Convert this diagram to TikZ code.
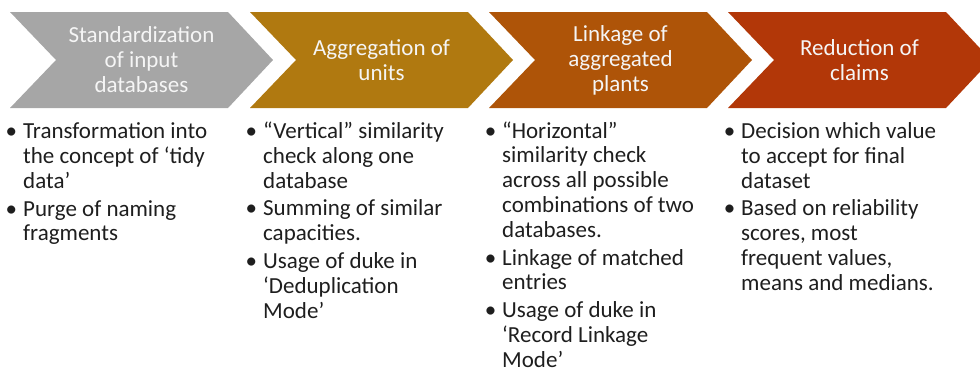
\documentclass[tikz,border=0pt]{standalone}
\usepackage{fontspec}
\setmainfont{Carlito}
\definecolor{cgray}{RGB}{166,166,166}
\definecolor{cgold}{RGB}{176,121,16}
\definecolor{cbrown}{RGB}{174,84,8}
\definecolor{cred}{RGB}{178,55,8}
\definecolor{ctext}{RGB}{30,30,30}
\newcommand\mychev[2]{\fill[#2] (#1,12) -- ++(218,0) -- ++(45,48) -- ++(-45,48) -- ++(-218,0) -- ++(46,-48) -- cycle;}
\newcommand\bul{\llap{•\hspace{6pt}}}
\begin{document}
\begin{tikzpicture}[x=1pt,y=-1pt,
  head/.style={align=center, text=white!96!black, inner sep=0pt, font=\fontsize{23}{25}\selectfont},
  col/.style={align=left, anchor=north west, inner sep=0pt, text=ctext, font=\fontsize{23}{24.8}\selectfont}]
\useasboundingbox (0,0) rectangle (980,373);
\clip (0,0) rectangle (980,373);
\mychev{10}{cgray}
\mychev{250}{cgold}
\mychev{489}{cbrown}
\mychev{728}{cred}
\node[head] (h1) at (141.5,60) {Standardization\\of input\\databases};
\node[head] (h2) at (381.5,60) {Aggregation of\\units};
\node[head] (h3) at (620.5,60) {Linkage of\\aggregated\\plants};
\node[head] (h4) at (859.5,60) {Reduction of\\claims};
\node[col] (c1) at (23,121.2) {\strut\bul Transformation into\\the concept of ‘tidy\\data’\\[3pt]\bul Purge of naming\\fragments};
\node[col] (c2) at (263,121) {\strut\bul “Vertical” similarity\\check along one\\database\\[3pt]\bul Summing of similar\\capacities.\\[3pt]\bul Usage of duke in\\‘Deduplication\\Mode’};
\node[col] (c3) at (502,120.6) {\strut\bul “Horizontal”\\similarity check\\across all possible\\combinations of two\\databases.\\[3pt]\bul Linkage of matched\\entries\\[3pt]\bul Usage of duke in\\‘Record Linkage\\Mode’};
\node[col] (c4) at (741,121) {\strut\bul Decision which value\\to accept for final\\dataset\\[3pt]\bul Based on reliability\\scores, most\\frequent values,\\means and medians.};
\end{tikzpicture}
\end{document}
